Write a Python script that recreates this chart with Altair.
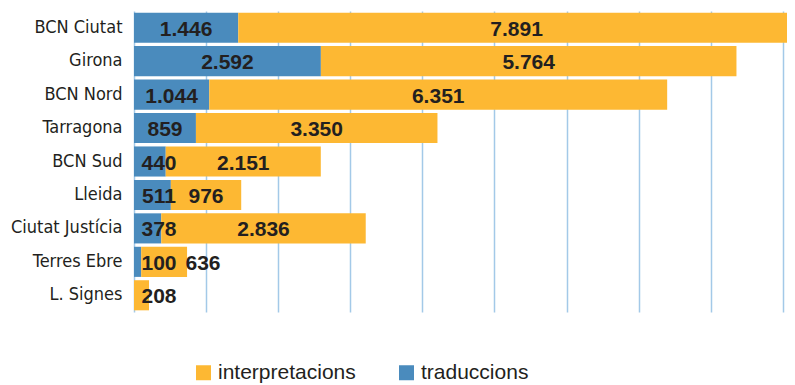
import altair as alt
import pandas as pd

categories = ["BCN Ciutat", "Girona", "BCN Nord", "Tarragona", "BCN Sud",
              "Lleida", "Ciutat Justícia", "Terres Ebre", "L. Signes"]
traduccions = [1446, 2592, 1044, 859, 440, 511, 378, 100, 0]
interpretacions = [7891, 5764, 6351, 3350, 2151, 976, 2836, 636, 208]
series = ["interpretacions", "traduccions"]
colors = ["#fdb833", "#4a8bbd"]
grid_values = [0, 1000, 2000, 3000, 4000, 5000, 6000, 7000, 8000, 9000]
XMAX = 9057

rows = []
for c, t, i in zip(categories, traduccions, interpretacions):
    rows.append({"cat": c, "serie": "traduccions", "value": t, "ord": 0})
    rows.append({"cat": c, "serie": "interpretacions", "value": i, "ord": 1})
long_df = pd.DataFrame(rows)
wide_df = pd.DataFrame({"cat": categories, "trad": traduccions, "interp": interpretacions})

FONT_NARROW = "DejaVu Sans Condensed"
FONT = "Liberation Sans"

y_enc = alt.Y("cat:N", sort=categories, title=None,
              scale=alt.Scale(paddingInner=0.1, paddingOuter=0.05),
              axis=alt.Axis(domain=False, ticks=False, labelFont=FONT_NARROW,
                            labelFontSize=18, labelColor="#231f20", labelPadding=12))
x_scale = alt.Scale(domain=[0, XMAX], nice=False, zero=True)

bars = alt.Chart(long_df).mark_bar(clip=True).encode(
    x=alt.X("value:Q", stack="zero", scale=x_scale, title=None,
            axis=alt.Axis(labels=False, ticks=False, domain=False, grid=True,
                          values=grid_values, gridColor="#a3c9e8", gridWidth=1.5,
                          gridOpacity=1)),
    y=y_enc,
    color=alt.Color("serie:N", scale=alt.Scale(domain=series, range=colors),
                    legend=alt.Legend(title=None, orient="none", direction="horizontal",
                                      legendX=59, legendY=351,
                                      symbolType="square", symbolSize=225,
                                      symbolStrokeWidth=0, symbolOpacity=1,
                                      labelFont=FONT, labelFontSize=21,
                                      labelColor="#231f20", labelOffset=4,
                                      columnPadding=40)),
    order=alt.Order("ord:Q"),
)

text_style = dict(font=FONT, fontSize=21, fontWeight="bold", color="#231f20",
                  align="center", baseline="middle", dy=2)

trad_labels = alt.Chart(wide_df).transform_filter("datum.trad > 0").transform_calculate(
    xp="max(datum.trad / 2, 347)",
    label="replace(format(datum.trad, ','), ',', '.')",
).mark_text(**text_style).encode(
    x=alt.X("xp:Q", scale=x_scale),
    y=alt.Y("cat:N", sort=categories),
    text="label:N",
)

interp_labels = alt.Chart(wide_df).transform_calculate(
    xp=f"min(max(datum.trad + datum.interp / 2, datum.trad > 0 ? 957 : 347), (datum.trad + {XMAX} + 110) / 2)",
    label="replace(format(datum.interp, ','), ',', '.')",
).mark_text(**text_style).encode(
    x=alt.X("xp:Q", scale=x_scale),
    y=alt.Y("cat:N", sort=categories),
    text="label:N",
)

chart = alt.layer(bars, trad_labels, interp_labels).properties(
    width=653, height=301,
    autosize=alt.AutoSizeParams(type="none"),
    padding={"left": 126, "top": 3, "right": 0, "bottom": 73},
).configure_view(stroke=None)

chart.save("out.html", embed_options={"renderer": "svg", "actions": False})
